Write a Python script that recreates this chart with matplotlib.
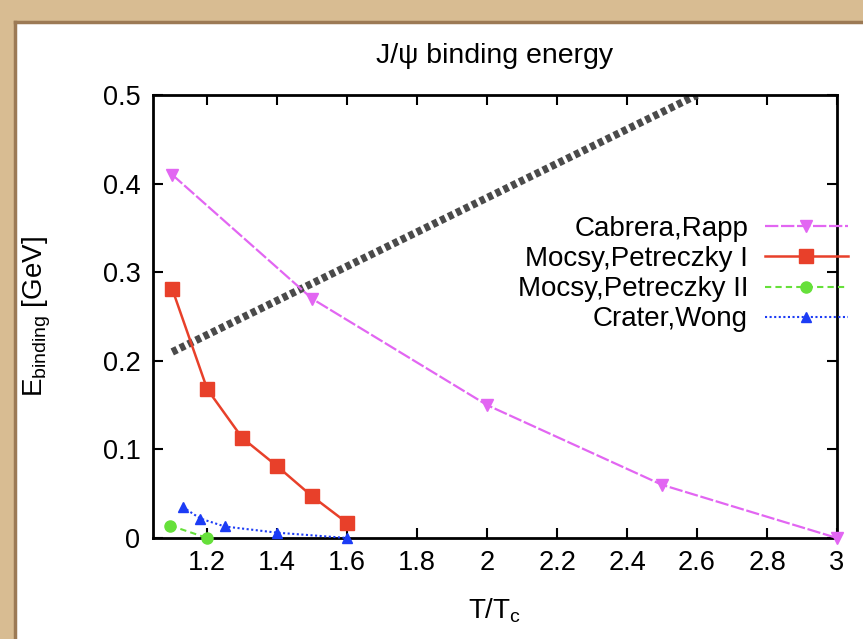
import numpy as np
import matplotlib.pyplot as plt
from matplotlib.patches import Rectangle

plt.rcParams['font.family'] = ['Liberation Sans', 'DejaVu Sans']

# Cabrera, Rapp
cr_t = [1.1, 1.5, 2.0, 2.5, 3.0]
cr_e = [0.41, 0.27, 0.15, 0.06, 0.0]
# Mocsy, Petreczky I
mp1_t = [1.1, 1.2, 1.3, 1.4, 1.5, 1.6]
mp1_e = [0.281, 0.168, 0.113, 0.081, 0.047, 0.017]
# Mocsy, Petreczky II
mp2_t = [1.095, 1.2]
mp2_e = [0.014, 0.0]
# Crater, Wong
cw_t = [1.13, 1.18, 1.25, 1.4, 1.6]
cw_e = [0.035, 0.022, 0.013, 0.006, 0.0]
# hatched band
band_t = [1.1, 2.6]
band_e = [0.21, 0.5]

xticks = [1.2, 1.4, 1.6, 1.8, 2, 2.2, 2.4, 2.6, 2.8, 3]
xticklabels = ['1.2', '1.4', '1.6', '1.8', '2', '2.2', '2.4', '2.6', '2.8', '3']
yticks = [0, 0.1, 0.2, 0.3, 0.4, 0.5]
yticklabels = ['0', '0.1', '0.2', '0.3', '0.4', '0.5']

W, H = 863, 639
fig = plt.figure(figsize=(W / 100, H / 100), dpi=100, facecolor='#d8bc92')

# white slide area inside the parchment frame
fig.patches.append(Rectangle((15 / W, 0), 1, (H - 22) / H, transform=fig.transFigure,
                             facecolor='white', edgecolor='none', zorder=-10))
fig.lines.append(plt.Line2D([15 / W, 15 / W], [0, (H - 22) / H], transform=fig.transFigure,
                            color='#9c7a55', lw=2.5, zorder=-9))
fig.lines.append(plt.Line2D([15 / W, 1], [(H - 22) / H, (H - 22) / H], transform=fig.transFigure,
                            color='#9c7a55', lw=2.5, zorder=-9))

ax = fig.add_axes([153 / W, 1 - 538 / H, (837 - 153) / W, (538 - 95) / H])
ax.set_facecolor('none')

ax.plot(band_t, band_e, color='#4a4a4a', lw=5.5, linestyle=(0, (0.7, 0.45)),
        solid_capstyle='butt', dash_capstyle='butt', zorder=2)

l1, = ax.plot(cr_t, cr_e, color='#e266f2', lw=1.6, linestyle=(0, (6, 1.2)),
              marker='v', ms=8, label='Cabrera,Rapp', zorder=3, clip_on=False)
l2, = ax.plot(mp1_t, mp1_e, color='#e8402a', lw=1.8, marker='s', ms=10,
              label='Mocsy,Petreczky I', zorder=4, clip_on=False)
l3, = ax.plot(mp2_t, mp2_e, color='#66e03a', lw=1.5, linestyle=(0, (3, 2)),
              marker='o', ms=8, label='Mocsy,Petreczky II', zorder=4, clip_on=False)
l4, = ax.plot(cw_t, cw_e, color='#1c3cf5', lw=1.5, linestyle=(0, (1, 1.2)),
              marker='^', ms=7, label='Crater,Wong', zorder=4, clip_on=False)

ax.set_xlim(1.045, 3)
ax.set_ylim(0, 0.5)
ax.set_xticks(xticks)
ax.set_xticklabels(xticklabels)
ax.set_yticks(yticks)
ax.set_yticklabels(yticklabels)
ax.tick_params(direction='in', length=7, width=1.5, top=True, right=True,
               labelsize=19.5, pad=9)
for s in ax.spines.values():
    s.set_linewidth(2)

ax.set_title('J/ψ binding energy', fontsize=20.5, pad=23)
ax.set_xlabel(r'T/T$_\mathregular{c}$', fontsize=20, labelpad=14)
ax.set_ylabel(r'E$_\mathregular{binding}$ [GeV]', fontsize=20, labelpad=36)

fig.legend(handles=[l1, l2, l3, l4], loc='upper right',
           bbox_to_anchor=(848 / W, 1 - 216 / H), frameon=False, fontsize=20,
           markerfirst=False, numpoints=1, handlelength=3.0, handletextpad=0.6,
           labelspacing=0.15, borderpad=0, borderaxespad=0, alignment='right')

fig.savefig('out.png', dpi=100, facecolor=fig.get_facecolor())
